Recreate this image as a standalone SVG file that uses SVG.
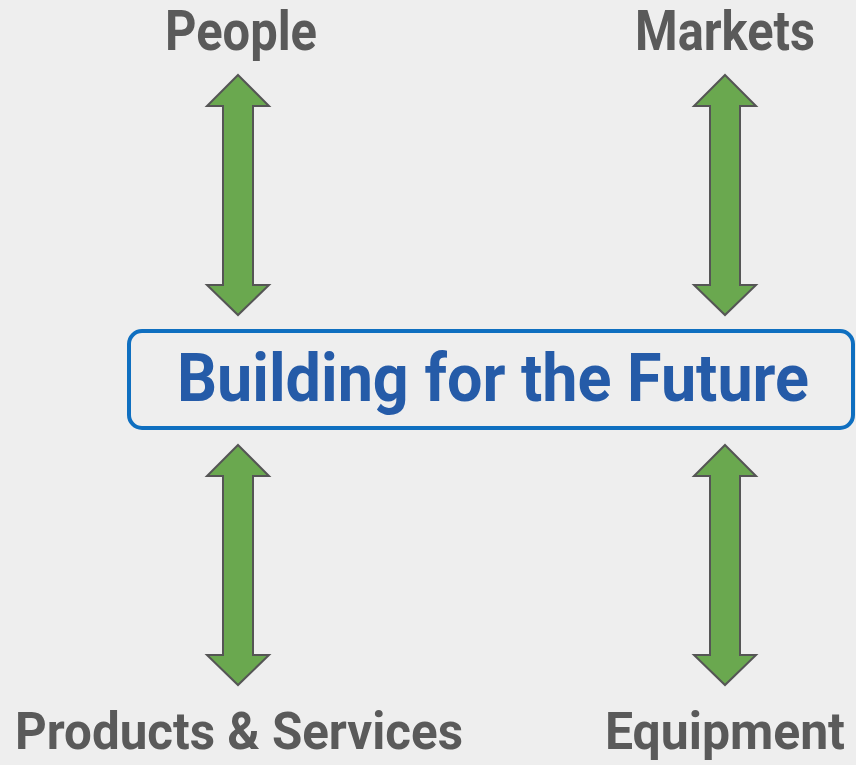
<svg xmlns="http://www.w3.org/2000/svg" width="856" height="765" viewBox="0 0 856 765">
<style>
.lbl{font-family:Roboto,"Noto Sans","Liberation Sans",sans-serif;font-weight:700;font-size:55px;fill:#5a5a5a;text-anchor:middle}
.bot{font-size:52px}
.title{font-family:Roboto,"Noto Sans","Liberation Sans",sans-serif;font-weight:700;font-size:67px;fill:#255ba8;text-anchor:middle}
.arr{fill:#6aa84f;stroke:#555555;stroke-width:2;stroke-linejoin:miter}
</style>
<defs>
<path id="dbl" d="M0,0 L31,31 L15,31 L15,210 L31,210 L0,240 L-31,210 L-15,210 L-15,31 L-31,31 Z"/>
</defs>
<rect width="856" height="765" fill="#eeeeee"/>
<g id="connectors">
<use href="#dbl" class="arr" x="238" y="75"/>
<use href="#dbl" class="arr" x="725" y="75"/>
<use href="#dbl" class="arr" x="238" y="445"/>
<use href="#dbl" class="arr" x="725" y="445"/>
</g>
<g id="people"><text class="lbl" x="241" y="50" textLength="152" lengthAdjust="spacingAndGlyphs">People</text></g>
<g id="markets"><text class="lbl" x="725" y="50" textLength="180" lengthAdjust="spacingAndGlyphs">Markets</text></g>
<g id="center">
<rect x="129" y="331" width="724" height="97" rx="13" fill="#eeeeee" stroke="#0f6fc0" stroke-width="4"/>
<text class="title" x="493" y="401" textLength="632" lengthAdjust="spacingAndGlyphs">Building for the Future</text>
</g>
<g id="products"><text class="lbl bot" x="239" y="749" textLength="448" lengthAdjust="spacingAndGlyphs">Products &amp; Services</text></g>
<g id="equipment"><text class="lbl bot" x="725" y="749" textLength="240" lengthAdjust="spacingAndGlyphs">Equipment</text></g>
</svg>
